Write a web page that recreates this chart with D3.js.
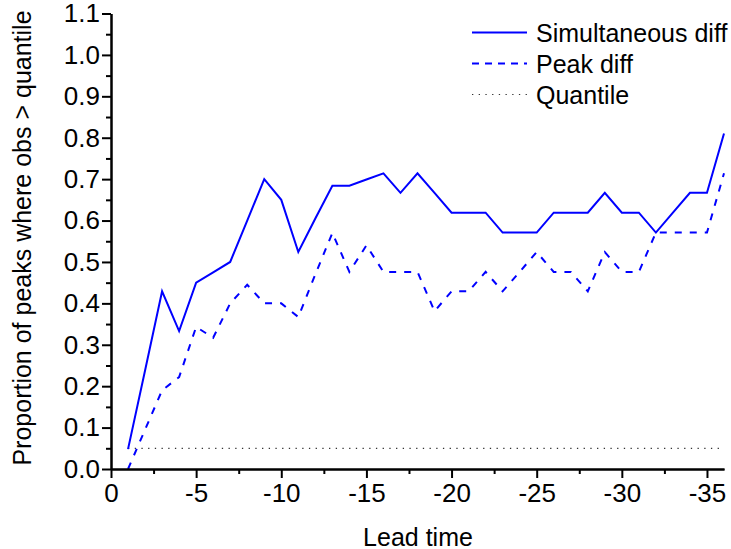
<!DOCTYPE html>
<html>
<head>
<meta charset="utf-8">
<script src="https://cdn.jsdelivr.net/npm/d3@7"></script>
<style>
  body { margin: 0; background: #fff; }
  svg text { font-family: "Liberation Sans", Arial, sans-serif; }
</style>
</head>
<body>
<script>
// lead times (x), the two series and the quantile level
const leadTimes = [-1, -2, -3, -4, -5, -6, -7, -8, -9, -10, -11, -12, -13, -14, -15, -16, -17, -18,
  -19, -20, -21, -22, -23, -24, -25, -26, -27, -28, -29, -30, -31, -32, -33, -34, -35, -36];
const simultaneousDiff = [0.048, 0.238, 0.429, 0.333, 0.45, 0.475, 0.5, 0.6, 0.7, 0.65, 0.524, 0.605,
  0.684, 0.684, 0.699, 0.714, 0.667, 0.714, 0.667, 0.619, 0.619, 0.619, 0.571, 0.571, 0.571, 0.619,
  0.619, 0.619, 0.667, 0.619, 0.619, 0.571, 0.619, 0.667, 0.667, 0.81];
const peakDiff = [0.0, 0.095, 0.19, 0.222, 0.343, 0.317, 0.4, 0.445, 0.4, 0.4, 0.367, 0.47,
  0.57, 0.476, 0.54, 0.476, 0.476, 0.476, 0.381, 0.429, 0.429, 0.476, 0.429, 0.476, 0.524, 0.476,
  0.476, 0.429, 0.524, 0.476, 0.476, 0.571, 0.571, 0.571, 0.571, 0.714];
const quantileLevel = 0.05;

const xTicks = [0, -5, -10, -15, -20, -25, -30, -35];
const xMinorTicks = [-2.5, -7.5, -12.5, -17.5, -22.5, -27.5, -32.5];
const yTicks = [0, 0.1, 0.2, 0.3, 0.4, 0.5, 0.6, 0.7, 0.8, 0.9, 1.0, 1.1];
const yMinorTicks = [0.05, 0.15, 0.25, 0.35, 0.45, 0.55, 0.65, 0.75, 0.85, 0.95, 1.05];

const legendItems = ["Simultaneous diff", "Peak diff", "Quantile"];

function drawChart() {
  const width = 731, height = 549;
  const left = 111, right = 724, top = 13.5, bottom = 469;

  const svg = d3.select("body").append("svg")
    .attr("width", width)
    .attr("height", height);

  const x = d3.scaleLinear().domain([0, -36]).range([left, right]);
  const y = d3.scaleLinear().domain([0, 1.1]).range([bottom, top]);

  // dotted quantile line
  svg.append("line")
    .attr("x1", x(leadTimes[0])).attr("x2", x(leadTimes[leadTimes.length - 1]))
    .attr("y1", y(quantileLevel)).attr("y2", y(quantileLevel))
    .attr("stroke", "#333")
    .attr("stroke-width", 1.2)
    .attr("stroke-dasharray", "1.3,5.4");

  const line = d3.line()
    .x(function(d, i) { return x(leadTimes[i]); })
    .y(function(d) { return y(d); });

  svg.append("path")
    .datum(simultaneousDiff)
    .attr("d", line)
    .attr("fill", "none")
    .attr("stroke", "#0000ff")
    .attr("stroke-width", 2)
    .attr("stroke-linejoin", "miter");

  svg.append("path")
    .datum(peakDiff)
    .attr("d", line)
    .attr("fill", "none")
    .attr("stroke", "#0000ff")
    .attr("stroke-width", 2)
    .attr("stroke-dasharray", "7,8");

  // axes (plain hyphen for negative labels, like the original)
  svg.append("g")
    .attr("transform", "translate(0," + bottom + ")")
    .call(d3.axisBottom(x).tickValues(xTicks).tickFormat(function(d) { return String(d); })
      .tickSize(9).tickSizeOuter(0).tickPadding(6));
  svg.append("g")
    .attr("transform", "translate(0," + bottom + ")")
    .call(d3.axisBottom(x).tickValues(xMinorTicks).tickFormat("")
      .tickSize(5).tickSizeOuter(0));

  svg.append("g")
    .attr("transform", "translate(" + left + ",0)")
    .call(d3.axisLeft(y).tickValues(yTicks).tickFormat(d3.format(".1f"))
      .tickSize(9).tickSizeOuter(0).tickPadding(2));
  svg.append("g")
    .attr("transform", "translate(" + left + ",0)")
    .call(d3.axisLeft(y).tickValues(yMinorTicks).tickFormat("")
      .tickSize(5).tickSizeOuter(0));

  svg.selectAll(".domain").attr("stroke", "#000").attr("stroke-width", 2);
  svg.selectAll(".tick line").attr("stroke", "#000").attr("stroke-width", 2);
  svg.selectAll(".tick text")
    .attr("fill", "#000")
    .style("font-size", "26px");

  // axis titles
  svg.append("text")
    .attr("x", (left + right) / 2 + 0.5)
    .attr("y", 546)
    .attr("text-anchor", "middle")
    .style("font-size", "25px")
    .text("Lead time");

  svg.append("text")
    .attr("transform", "translate(31," + 238 + ") rotate(-90)")
    .attr("text-anchor", "middle")
    .style("font-size", "25px")
    .text("Proportion of peaks where obs > quantile");

  // legend
  const legendStyles = [
    {dash: null, color: "#0000ff", w: 2},
    {dash: "7,6", color: "#0000ff", w: 2},
    {dash: "1.3,5.4", color: "#333", w: 1.2}
  ];
  const legend = svg.append("g");
  legendItems.forEach(function(name, i) {
    const ly = 32.5 + i * 31;
    legend.append("line")
      .attr("x1", 472).attr("x2", 527)
      .attr("y1", ly).attr("y2", ly)
      .attr("stroke", legendStyles[i].color)
      .attr("stroke-width", legendStyles[i].w)
      .attr("stroke-dasharray", legendStyles[i].dash);
    legend.append("text")
      .attr("x", 536)
      .attr("y", ly)
      .attr("dy", "0.36em")
      .style("font-size", "25px")
      .text(name);
  });
}

window.onload = drawChart;
</script>
</body>
</html>
